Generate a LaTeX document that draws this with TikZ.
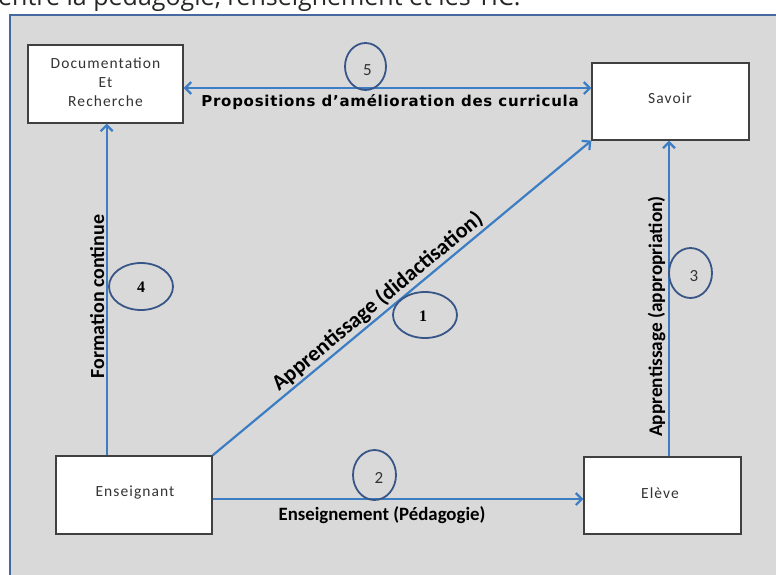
\documentclass[tikz,border=0pt]{standalone}
\usepackage{fontspec}
\setmainfont{Carlito}
\newfontfamily\boxfont[LetterSpace=7]{Carlito}
\newfontfamily\lblfont{Carlito}
\newfontfamily\dvfont[LetterSpace=5]{DejaVu Sans}
\newfontfamily\capfont{Open Sans}
\newfontfamily\serfont{Liberation Serif}
\usetikzlibrary{arrows.meta,shapes.geometric}
\definecolor{panelgray}{RGB}{217,217,217}
\definecolor{panelborder}{RGB}{70,105,160}
\definecolor{arrowblue}{RGB}{60,125,195}
\definecolor{ringblue}{RGB}{55,85,135}
\definecolor{boxline}{RGB}{64,64,64}
\tikzset{
  boxnode/.style={draw=boxline, line width=1.3pt, fill=white, inner sep=0pt},
  boxtext/.style={inner sep=0pt, align=center, font=\boxfont\fontsize{15.5pt}{19pt}\selectfont, text=black!80},
  arr/.style={draw=arrowblue, line width=2.2pt, -{Straight Barb[length=6pt,width=12pt]}},
  ring/.style={draw=ringblue, line width=1.8pt, ellipse, inner sep=0pt},
  numlight/.style={inner sep=0pt, font=\lblfont\fontsize{17pt}{17pt}\selectfont, text=black!80},
  numbold/.style={inner sep=0pt, font=\serfont\bfseries\fontsize{16pt}{16pt}\selectfont, text=black},
  lbl/.style={inner sep=0pt, font=\lblfont\bfseries\fontsize{20pt}{20pt}\selectfont, text=black}
}
\begin{document}
\begin{tikzpicture}[x=1pt,y=-1pt]
\useasboundingbox (0,0) rectangle (776,574);
\clip (0,0) rectangle (776,574);
% caption (cut at the top)
\node[anchor=base west, inner sep=0pt, font=\capfont\fontsize{25pt}{25pt}\selectfont, text=black!85] (caption) at (-2,5) {entre la pédagogie, l’enseignement et les TIC.};
% panel
\draw[draw=panelborder, line width=2pt, fill=panelgray] (10,14.5) rectangle (800,600);
% boxes
\node[boxnode, minimum width=155pt, minimum height=78pt] (doc) at (105.5,84) {};
\node[boxtext] (doctext) at (105.5,82) {Documentation\\Et\\Recherche};
\node[boxnode, minimum width=157pt, minimum height=77pt] (savoir) at (670.5,101.5) {};
\node[boxtext] (savoirtext) at (670,98.5) {Savoir};
\node[boxnode, minimum width=156pt, minimum height=78pt] (ens) at (134,495) {};
\node[boxtext] (enstext) at (135,492.5) {Enseignant};
\node[boxnode, minimum width=157pt, minimum height=77pt] (eleve) at (662.5,495.5) {};
\node[boxtext] (elevetext) at (660,493) {Elève};
% connectors
\draw[arr, {Straight Barb[length=6pt,width=12pt]}-{Straight Barb[length=6pt,width=12pt]}]
  ([yshift=-4pt]doc.east) -- ([yshift=-4pt]doc.east -| savoir.west);
\draw[arr] ([xshift=-27.3pt]ens.north) -- ([xshift=-27.3pt]ens.north |- doc.south);
\draw[arr] (ens.north east) -- (savoir.south west);
\draw[arr] ([xshift=6.5pt]eleve.north) -- ([xshift=6.5pt]eleve.north |- savoir.south);
\draw[arr] ([yshift=-4pt]ens.east) -- ([yshift=-4pt]ens.east -| eleve.west);
% labels
\node[inner sep=0pt, anchor=base, font=\dvfont\bfseries\fontsize{15pt}{16pt}\selectfont, text=black] (lprop) at (390,106) {Propositions d’amélioration des curricula};
\node[lbl, rotate=90, anchor=base] (lform) at (104,296.5) {Formation continue};
\node[lbl, font=\lblfont\bfseries\fontsize{19.3pt}{20pt}\selectfont, rotate=90, anchor=base] (lappr) at (662,316.5) {Apprentissage (appropriation)};
\node[lbl, font=\lblfont\bfseries\fontsize{18.8pt}{20pt}\selectfont, anchor=base] (lens) at (382,520) {Enseignement (Pédagogie)};
\path (ens.north east) -- (savoir.south west)
  node[lbl, font=\lblfont\bfseries\fontsize{22pt}{22pt}\selectfont, pos=0.457, sloped, anchor=south, inner sep=2.5pt] (ldid) {Apprentissage (didactisation)};
% numbered rings
\node[ring, minimum width=41pt, minimum height=47pt] (c5) at (365.5,66.5) {};
\node[numlight] (n5) at (367.5,70.5) {5};
\node[ring, minimum width=64pt, minimum height=47pt] (c4) at (141,286.5) {};
\node[numbold] (n4) at (141,287) {4};
\node[ring, minimum width=64pt, minimum height=46pt] (c1) at (425,315) {};
\node[numbold] (n1) at (423,316.5) {1};
\node[ring, minimum width=43pt, minimum height=50pt] (c3) at (690.5,273) {};
\node[numlight] (n3) at (694,276) {3};
\node[ring, minimum width=43pt, minimum height=50pt] (c2) at (374.5,475) {};
\node[numlight] (n2) at (379,478) {2};
\end{tikzpicture}
\end{document}
